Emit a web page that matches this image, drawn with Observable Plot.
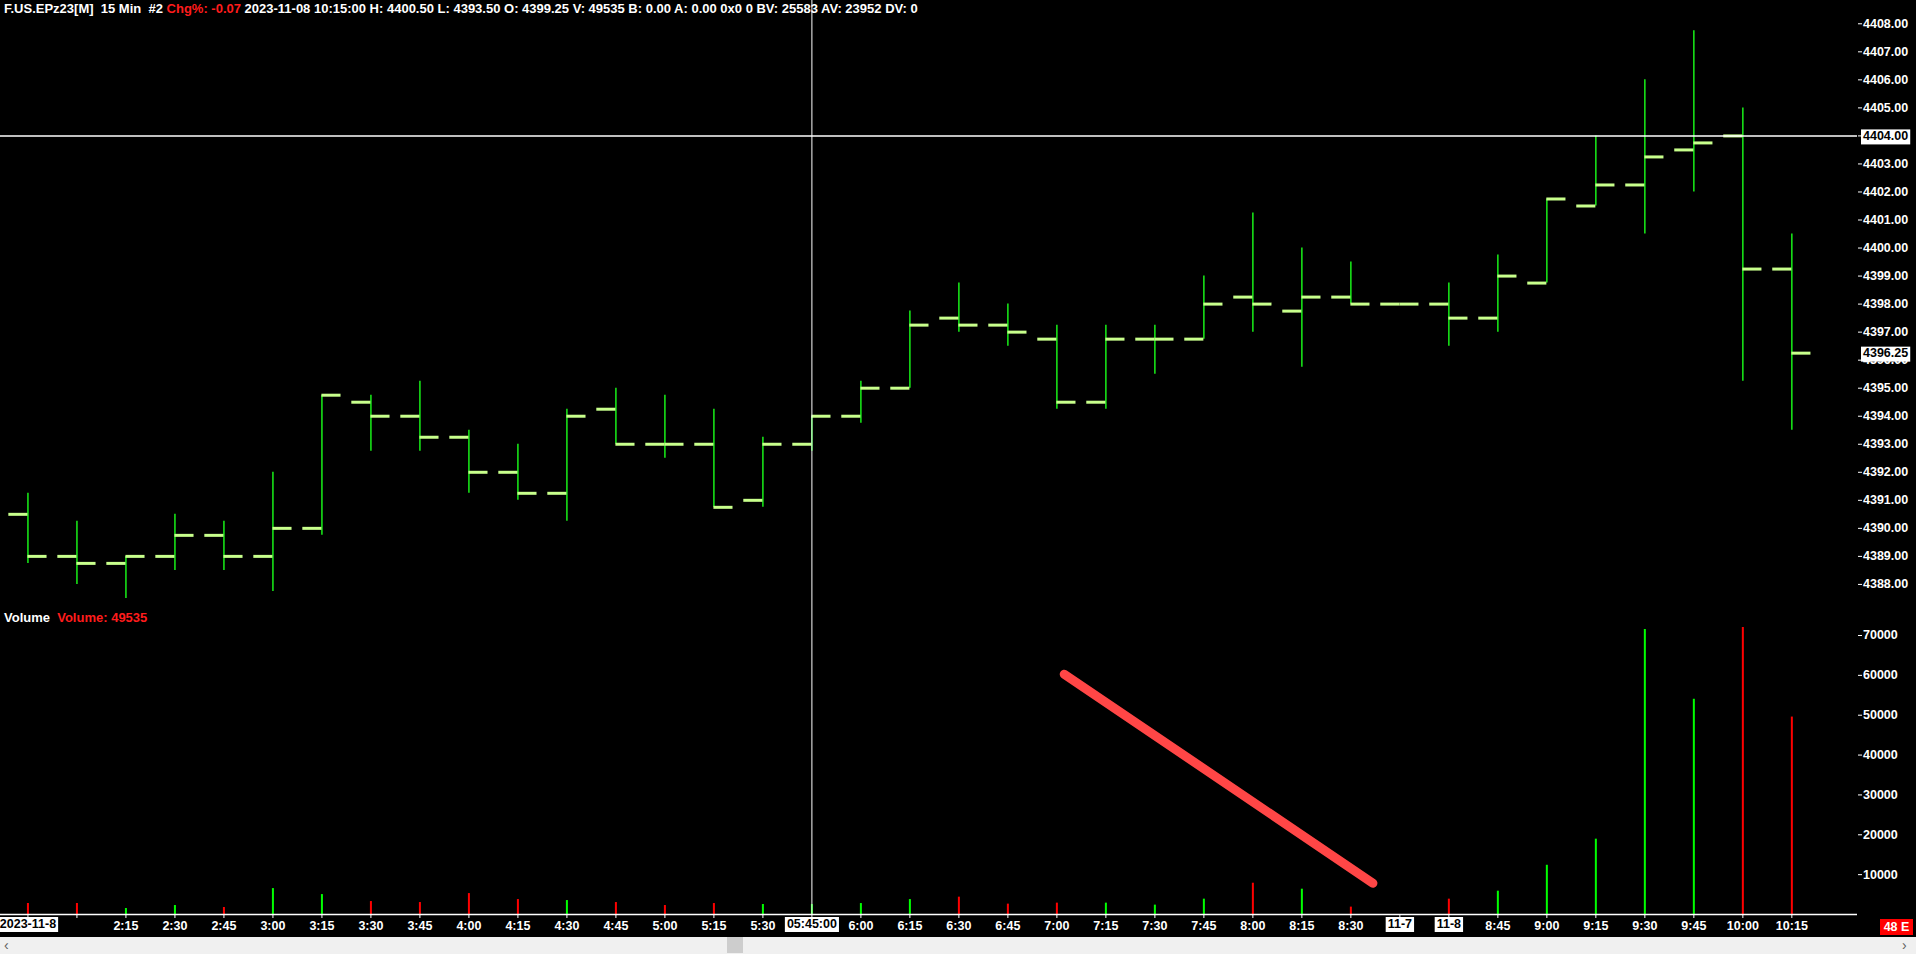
<!DOCTYPE html>
<html>
<head>
<meta charset="utf-8">
<script src="https://cdn.jsdelivr.net/npm/d3@7"></script>
<script src="https://cdn.jsdelivr.net/npm/@observablehq/plot@0.6"></script>
<style>
  html, body { margin: 0; padding: 0; background: #000; overflow: hidden; }
  #chart { position: relative; width: 1916px; height: 954px; background: #000;
           font-family: "Liberation Sans", Arial, sans-serif; font-weight: bold; }
  #chart svg { position: absolute; left: 0; overflow: visible; }
  #price { top: 0; }
  #volume { top: 600px; }
  .txt { position: absolute; white-space: pre; font-size: 13px; line-height: 16px; color: #fff; }
  .red { color: #ff1c1c; }
  #hdr { left: 4px; top: 1px; }
  #vol { left: 4px; top: 610px; }
  #badge { left: 1880px; top: 919px; width: 33px; height: 16px; background: #ff0000; color: #fff; text-align: center; font-size: 12.5px; }
  #scroll { position: absolute; left: 0; top: 937px; width: 1916px; height: 17px; background: #f0f0f0; }
  #scroll .thumb { position: absolute; left: 727px; top: 0; width: 16px; height: 16px; background: #cdcdcd; }
  #scroll .l, #scroll .r { position: absolute; top: 0; font-size: 14px; line-height: 16px; color: #606060; font-weight: normal; }
  #scroll .l { left: 4px; } #scroll .r { left: 1902px; }
</style>
</head>
<body>
<div id="chart">
  <div id="slot-price"></div>
  <div id="slot-volume"></div>
  <div class="txt" id="hdr">F.US.EPz23[M]  15 Min  #2 <span class="red">Chg%: -0.07</span> 2023-11-08 10:15:00 H: 4400.50 L: 4393.50 O: 4399.25 V: 49535 B: 0.00 A: 0.00 0x0 0 BV: 25583 AV: 23952 DV: 0</div>
  <div class="txt" id="vol">Volume  <span class="red">Volume: 49535</span></div>
  <div class="txt" id="badge">48 E</div>
  <div id="scroll"><span class="l">&#8249;</span><div class="thumb"></div><span class="r">&#8250;</span></div>
</div>
<script>
// ---------- data ----------
const times = ["2023-11-8", "2:00", "2:15", "2:30", "2:45", "3:00", "3:15", "3:30", "3:45", "4:00",
  "4:15", "4:30", "4:45", "5:00", "5:15", "5:30", "05:45:00", "6:00", "6:15", "6:30",
  "6:45", "7:00", "7:15", "7:30", "7:45", "8:00", "8:15", "8:30", "11-7", "11-8",
  "8:45", "9:00", "9:15", "9:30", "9:45", "10:00", "10:15"];
const hiddenLabels = [1];
const boxedLabels = [0, 16, 28, 29];

const openP  = [4390.50, 4389.00, 4388.75, 4389.00, 4389.75, 4389.00, 4390.00, 4394.50, 4394.00, 4393.25,
  4392.00, 4391.25, 4394.25, 4393.00, 4393.00, 4391.00, 4393.00, 4394.00, 4395.00, 4397.50,
  4397.25, 4396.75, 4394.50, 4396.75, 4396.75, 4398.25, 4397.75, 4398.25, 4398.00, 4398.00,
  4397.50, 4398.75, 4401.50, 4402.25, 4403.50, 4404.00, 4399.25];
const highP  = [4391.25, 4390.25, 4389.00, 4390.50, 4390.25, 4392.00, 4394.75, 4394.75, 4395.25, 4393.50,
  4393.00, 4394.25, 4395.00, 4394.75, 4394.25, 4393.25, 4394.00, 4395.25, 4397.75, 4398.75,
  4398.00, 4397.25, 4397.25, 4397.25, 4399.00, 4401.25, 4400.00, 4399.50, 4398.00, 4398.75,
  4399.75, 4401.75, 4404.00, 4406.00, 4407.75, 4405.00, 4400.50];
const lowP   = [4388.75, 4388.00, 4387.50, 4388.50, 4388.50, 4387.75, 4389.75, 4392.75, 4392.75, 4391.25,
  4391.00, 4390.25, 4393.00, 4392.50, 4390.75, 4390.75, 4392.75, 4393.75, 4395.00, 4397.00,
  4396.50, 4394.25, 4394.25, 4395.50, 4396.75, 4397.00, 4395.75, 4398.00, 4398.00, 4396.50,
  4397.00, 4398.75, 4401.50, 4400.50, 4402.00, 4395.25, 4393.50];
const closeP = [4389.00, 4388.75, 4389.00, 4389.75, 4389.00, 4390.00, 4394.75, 4394.00, 4393.25, 4392.00,
  4391.25, 4394.00, 4393.00, 4393.00, 4390.75, 4393.00, 4394.00, 4395.00, 4397.25, 4397.25,
  4397.00, 4394.50, 4396.75, 4396.75, 4398.00, 4398.00, 4398.25, 4398.00, 4398.00, 4397.50,
  4399.00, 4401.75, 4402.25, 4403.25, 4403.75, 4399.25, 4396.25];
const volume = [2760, 2760, 1500, 2250, 1750, 6500, 5000, 3250, 3000, 5250,
  3750, 3500, 3000, 2250, 2750, 2500, 2500, 2750, 3750, 4350,
  2600, 2850, 2850, 2350, 3850, 7850, 6350, 1850, 0, 3850,
  5850, 12350, 18900, 71500, 54000, 72000, 49535];
const volumeDir = ["down", "down", "up", "up", "down", "up", "up", "down", "down", "down",
  "down", "up", "down", "down", "down", "up", "up", "up", "up", "down",
  "down", "down", "up", "up", "up", "down", "up", "down", "up", "down",
  "up", "up", "up", "up", "up", "down", "down"];

const priceTicks = [4388, 4389, 4390, 4391, 4392, 4393, 4394, 4395, 4396, 4397, 4398,
  4399, 4400, 4401, 4402, 4403, 4404, 4405, 4406, 4407, 4408];
const volumeTicks = [10000, 20000, 30000, 40000, 50000, 60000, 70000];
const crossBar = 16;
const crossPrice = 4404;
const lastPrice = 4396.25;
const annotationBar = [21.15, 27.45];
const annotationVolume = [60300, 7850];

// ---------- build ----------
const bars = times.map((t, i) => ({
  i, t, open: openP[i], high: highP[i], low: lowP[i], close: closeP[i],
  volume: volume[i], dir: volumeDir[i]
}));
const annotation = annotationBar.map((b, k) => ({bar: b, volume: annotationVolume[k]}));

const FONT = '"Liberation Sans", Arial, sans-serif';
const TICK = 0.39;          // open/close tick length, in bar units
const XDOM = [-0.56, 37.34];
const BOXED_INK = "#010101"; // marker colour for labels drawn on a white box
const baseStyle = {background: "transparent", color: "#fff", fontFamily: FONT,
                   fontSize: "12.5px", fontWeight: "bold", overflow: "visible"};

const pricePlot = Plot.plot({
  width: 1916, height: 600,
  marginLeft: 0, marginRight: 59, marginTop: 0, marginBottom: 0,
  style: baseStyle,
  x: {domain: XDOM, axis: null},
  y: {domain: [4387.426, 4408.831], axis: null},
  marks: [
    Plot.ruleX(bars, {x: "i", y1: "low", y2: "high", stroke: "#18f018", strokeWidth: 1.5}),
    Plot.ruleY(bars, {y: "open", x1: d => d.i - TICK, x2: "i", stroke: "#c8ff8c", strokeWidth: 3}),
    Plot.ruleY(bars, {y: "close", x1: "i", x2: d => d.i + TICK, stroke: "#c8ff8c", strokeWidth: 3}),
    Plot.ruleY([crossPrice], {stroke: "#fff", strokeWidth: 1.5}),
    Plot.ruleX([crossBar], {stroke: "#fff", strokeWidth: 1}),
    Plot.axisY({anchor: "right", ticks: priceTicks, tickFormat: d => d.toFixed(2), label: null,
                tickSize: 4, tickPadding: 1.5, line: true, stroke: "#fff", fill: "#fff"}),
    Plot.text([crossPrice, lastPrice], {y: d => d, frameAnchor: "right", dx: 5.5, textAnchor: "start",
                text: d => d.toFixed(2), fill: BOXED_INK})
  ]
});
pricePlot.id = "price";

const volumePlot = Plot.plot({
  width: 1916, height: 336,
  marginLeft: 0, marginRight: 59, marginTop: 0, marginBottom: 22,
  style: baseStyle,
  x: {domain: XDOM, axis: null},
  y: {domain: [0, 78781], axis: null},
  color: {domain: ["up", "down"], range: ["#00ff00", "#ff0000"]},
  marks: [
    Plot.ruleX(bars, {x: "i", y1: 0, y2: "volume", stroke: "dir", strokeWidth: 2}),
    Plot.ruleX([crossBar], {stroke: "#fff", strokeWidth: 1}),
    Plot.line(annotation, {x: "bar", y: "volume", stroke: "#ff4646", strokeWidth: 9,
                           strokeLinecap: "round"}),
    Plot.ruleY([0], {stroke: "#fff", strokeWidth: 1.5}),
    Plot.axisY({anchor: "right", ticks: volumeTicks, tickFormat: d => String(d), label: null,
                tickSize: 4, tickPadding: 1.5, line: true, stroke: "#fff", fill: "#fff"}),
    Plot.axisX({anchor: "bottom", ticks: bars.map(d => d.i), label: null,
                tickFormat: i => (hiddenLabels.includes(i) || boxedLabels.includes(i)) ? "" : times[i],
                tickSize: 4, tickPadding: 3, stroke: "#fff", fill: "#fff"}),
    Plot.text(bars.filter(d => boxedLabels.includes(d.i)), {x: "i", frameAnchor: "bottom", dy: 13,
                text: "t", fill: BOXED_INK})
  ]
});
volumePlot.id = "volume";

document.getElementById("slot-price").replaceWith(pricePlot);
document.getElementById("slot-volume").replaceWith(volumePlot);

// white boxes behind highlighted labels
const SVGNS = "http://www.w3.org/2000/svg";
for (const svg of [pricePlot, volumePlot]) {
  svg.querySelectorAll("text").forEach(t => {
    const ink = (t.getAttribute("fill") || (t.parentNode && t.parentNode.getAttribute("fill")) || "").toLowerCase();
    if (ink !== BOXED_INK) return;
    const b = t.getBBox();
    const r = document.createElementNS(SVGNS, "rect");
    r.setAttribute("x", b.x - 2);
    r.setAttribute("y", b.y + 0.5);
    r.setAttribute("width", b.width + 4);
    r.setAttribute("height", b.height + 1);
    r.setAttribute("fill", "#fff");
    r.setAttribute("stroke", "none");
    if (t.getAttribute("transform")) r.setAttribute("transform", t.getAttribute("transform"));
    t.parentNode.insertBefore(r, t);
  });
}
</script>
</body>
</html>
